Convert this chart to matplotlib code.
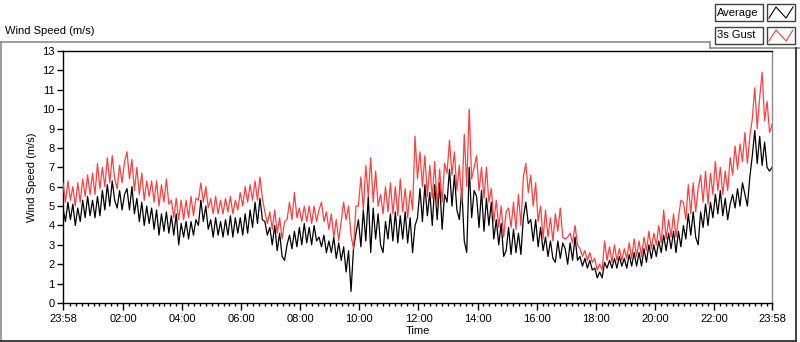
import numpy as np
import matplotlib.pyplot as plt
from matplotlib.lines import Line2D
from matplotlib.patches import Rectangle

plt.rcParams['font.family'] = ['Liberation Sans', 'DejaVu Sans']

# 5-minute samples starting at 23:58, one row per hour
avg = [
    4.9, 4.2, 5.2, 4.3, 5.1, 4.0, 4.9, 4.2, 5.3, 4.4, 5.5, 4.5,
    5.3, 4.4, 5.5, 4.5, 5.8, 4.8, 6.1, 5.0, 6.3, 5.3, 4.9, 5.8,
    4.8, 5.6, 5.9, 4.8, 6.0, 4.6, 5.4, 4.2, 5.2, 4.0, 5.0, 4.1,
    4.9, 3.8, 4.8, 3.5, 4.6, 3.7, 4.7, 3.6, 4.5, 3.5, 4.6, 3.0,
    4.1, 3.4, 4.2, 3.3, 4.2, 3.5, 4.3, 4.0, 5.3, 4.2, 5.0, 3.8,
    4.3, 3.4, 4.4, 3.5, 4.2, 3.4, 4.3, 3.5, 4.5, 3.4, 4.4, 3.6,
    4.4, 3.5, 4.6, 3.6, 4.8, 3.9, 5.2, 4.1, 5.4, 4.3, 4.2, 3.5,
    3.9, 3.0, 4.0, 2.7, 3.6, 2.4, 2.2, 3.0, 3.5, 2.8, 3.7, 2.9,
    3.9, 3.0, 4.1, 3.1, 3.9, 3.0, 4.0, 3.2, 3.4, 2.9, 3.5, 2.6,
    3.2, 2.6, 3.4, 2.3, 3.1, 2.2, 2.9, 1.6, 2.7, 0.6, 2.8, 3.6,
    4.3, 2.9, 4.8, 3.2, 5.5, 2.6, 4.9, 3.3, 4.6, 3.0, 2.6, 4.2,
    3.3, 4.6, 3.2, 4.7, 3.1, 4.5, 3.3, 4.7, 3.1, 4.4, 2.6, 4.0,
    4.4, 5.9, 4.2, 6.1, 4.5, 5.7, 4.0, 6.1, 4.3, 6.2, 3.8, 5.6,
    5.2, 6.9, 5.0, 6.6, 4.8, 4.3, 5.9, 3.2, 2.6, 7.0, 4.4, 5.8,
    5.5, 3.9, 5.8, 3.7, 5.4, 4.0, 5.2, 3.3, 4.3, 3.0, 4.1, 2.4,
    2.7, 3.9, 2.5, 3.8, 2.6, 3.6, 2.5, 4.4, 5.2, 4.1, 4.3, 3.2,
    4.3, 2.9, 3.9, 2.7, 3.4, 2.4, 3.2, 2.3, 2.1, 3.2, 2.3, 3.1,
    2.8, 2.0, 3.1, 2.2, 3.4, 2.2, 2.4, 1.9, 2.3, 1.8, 2.2, 1.7,
    1.8, 1.3, 1.6, 1.3, 2.1, 1.8, 2.2, 1.8, 2.3, 1.8, 2.4, 1.9,
    2.3, 1.8, 2.5, 1.9, 2.6, 1.9, 2.6, 1.9, 2.8, 2.1, 3.0, 2.3,
    3.0, 2.4, 3.2, 2.6, 3.5, 2.7, 3.6, 2.8, 3.7, 2.6, 3.7, 2.9,
    4.0, 3.3, 4.6, 3.5, 4.7, 3.4, 3.0, 4.7, 3.9, 5.1, 4.0, 5.2,
    4.4, 5.6, 4.6, 5.8, 4.5, 5.4, 4.3, 5.1, 5.6, 4.9, 5.9, 5.0,
    6.2, 5.6, 5.0, 6.5, 7.6, 8.9, 7.2, 8.6, 7.1, 8.3, 7.0, 6.8,
    7.0,
]

gust = [
    6.2, 5.2, 6.3, 5.3, 6.0, 5.0, 6.2, 5.2, 6.4, 5.5, 6.6, 5.6,
    6.7, 5.6, 7.2, 5.9, 7.0, 6.0, 7.5, 6.2, 7.6, 6.4, 5.9, 7.1,
    6.2, 7.3, 7.8, 6.4, 7.4, 5.8, 7.0, 5.6, 6.7, 5.3, 6.3, 5.5,
    6.3, 5.2, 6.3, 5.0, 6.1, 5.2, 6.4, 5.1, 5.3, 4.4, 5.4, 4.3,
    5.3, 4.3, 5.3, 4.4, 5.5, 4.5, 5.4, 5.3, 6.2, 5.2, 6.0, 4.9,
    5.4, 4.6, 5.5, 4.6, 5.3, 4.6, 5.4, 4.7, 5.5, 4.6, 5.3, 4.8,
    5.7, 5.0, 6.0, 5.2, 6.1, 5.3, 6.3, 5.3, 6.5, 5.4, 4.7, 4.1,
    4.7, 3.8, 4.8, 3.6, 4.4, 3.3, 4.2, 4.3, 5.2, 4.3, 5.7, 4.4,
    4.9, 4.2, 5.0, 4.2, 5.0, 4.1, 5.0, 4.2, 4.8, 5.2, 4.2, 4.7,
    3.8, 4.6, 3.4, 4.3, 3.2, 4.2, 5.2, 4.3, 5.0, 3.5, 2.8, 5.0,
    5.0, 6.5, 4.8, 7.1, 5.5, 7.5, 5.2, 6.8, 5.0, 5.6, 4.6, 6.0,
    4.7, 6.2, 4.6, 6.0, 4.5, 6.4, 4.7, 5.9, 4.4, 5.8, 4.8, 8.6,
    6.4, 7.8, 6.0, 7.6, 5.5, 7.1, 5.4, 7.3, 5.0, 6.9, 5.2, 7.2,
    6.7, 8.4, 6.6, 7.8, 5.8, 7.1, 5.2, 8.7, 6.0, 10.0, 6.4, 7.0,
    7.6, 5.8, 7.0, 5.4, 7.0, 5.2, 5.9, 4.2, 5.3, 3.9, 5.0, 3.4,
    4.7, 4.9, 3.9, 5.2, 3.8, 5.6, 4.0, 6.5, 7.2, 5.7, 6.6, 5.0,
    6.2, 4.2, 5.0, 3.3, 4.8, 3.4, 4.4, 3.2, 4.6, 3.7, 4.9, 3.4,
    3.3, 3.4, 3.6, 3.1, 4.0, 3.0, 2.8, 2.4, 2.7, 2.2, 2.6, 2.1,
    2.3, 1.7, 2.0, 1.7, 3.2, 2.2, 2.9, 2.1, 3.0, 2.2, 2.8, 2.2,
    2.8, 2.3, 3.1, 2.3, 3.3, 2.4, 3.2, 2.4, 3.4, 2.7, 3.7, 2.8,
    3.6, 3.0, 4.0, 3.1, 4.8, 3.3, 4.3, 3.4, 4.6, 3.4, 4.4, 5.3,
    5.2, 4.3, 6.1, 4.6, 6.2, 4.7, 5.9, 6.6, 5.2, 6.8, 5.1, 6.7,
    5.6, 7.3, 5.8, 7.0, 5.6, 6.8, 5.8, 7.5, 6.6, 8.1, 6.9, 8.2,
    7.3, 8.8, 7.2, 8.6, 9.5, 11.1, 9.0, 10.6, 11.9, 9.4, 10.4, 8.8,
    9.2,
]

start = -2 / 60          # 23:58 of the previous day, in hours
step = 5 / 60            # sample interval
t = start + step * np.arange(len(avg))

xtick_pos = [start, 2, 4, 6, 8, 10, 12, 14, 16, 18, 20, 22, 24 + start]
xtick_labels = ['23:58', '02:00', '04:00', '06:00', '08:00', '10:00', '12:00',
                '14:00', '16:00', '18:00', '20:00', '22:00', '23:58']

W, H = 800, 342


def fx(px):
    return px / W


def fy(py):
    return 1 - py / H


fig = plt.figure(figsize=(W / 100, H / 100), dpi=100)

# outer panel frame (LabVIEW style)
gray = '#8c8c8c'
for (x0, y0, x1, y1, c) in [(0, 42, 710, 42, gray), (0.5, 42, 0.5, 341, gray),
                            (710, 42, 710, 48, gray), (710, 48, 800, 48, gray),
                            (0, 340.5, 796, 340.5, '#202020'),
                            (796, 48, 796, 341, '#202020')]:
    fig.add_artist(Line2D([fx(x0), fx(x1)], [fy(y0), fy(y1)], color=c, lw=1.2))

fig.text(fx(5), fy(31), 'Wind Speed (m/s)', fontsize=8, va='center', ha='left')

ax = fig.add_axes([fx(63), fy(303), fx(772 - 63), (303 - 51) / H])
ax.plot(t, avg, color='black', lw=0.9, zorder=2)
ax.plot(t, gust, color='#ff4040', lw=0.9, zorder=3)

ax.set_xlim(start, 24 + start)
ax.set_ylim(0, 13)
ax.set_yticks(range(14))
ax.set_xticks(xtick_pos)
ax.set_xticklabels(xtick_labels)
ax.set_xticks(np.arange(0.2, 24, 0.2), minor=True)
ax.tick_params(axis='both', labelsize=8, colors='black', length=4, width=1, pad=2)
ax.tick_params(axis='x', which='minor', length=2.5, width=1)
ax.tick_params(axis='x', which='major', length=5, pad=3)
ax.set_ylabel('Wind Speed (m/s)', fontsize=8, labelpad=4)
ax.set_xlabel('Time', fontsize=8, labelpad=1)
ax.spines['top'].set_color('black')
ax.spines['left'].set_color('black')
ax.spines['right'].set_color(gray)
ax.spines['bottom'].set_color('black')
for s in ax.spines.values():
    s.set_linewidth(1.0)

# legend boxes
legend_names = ['Average', '3s Gust']
legend_colors = ['black', '#ff4040']
for i, (name, col) in enumerate(zip(legend_names, legend_colors)):
    top = 4 + i * 23
    fig.add_artist(Rectangle((fx(715), fy(top + 17)), fx(48), 17 / H,
                             transform=fig.transFigure, fc='white', ec='#404040', lw=1))
    fig.text(fx(717), fy(top + 8.5), name, fontsize=8, va='center', ha='left')
    fig.add_artist(Rectangle((fx(767), fy(top + 17)), fx(28), 17 / H,
                             transform=fig.transFigure, fc='white', ec='#404040', lw=1))
    xs = [769, 776, 786, 793]
    ys = [top + 14, top + 3, top + 14, top + 3]
    fig.add_artist(Line2D([fx(x) for x in xs], [fy(y) for y in ys], color=col, lw=0.8))

fig.savefig('out.png', dpi=100)
